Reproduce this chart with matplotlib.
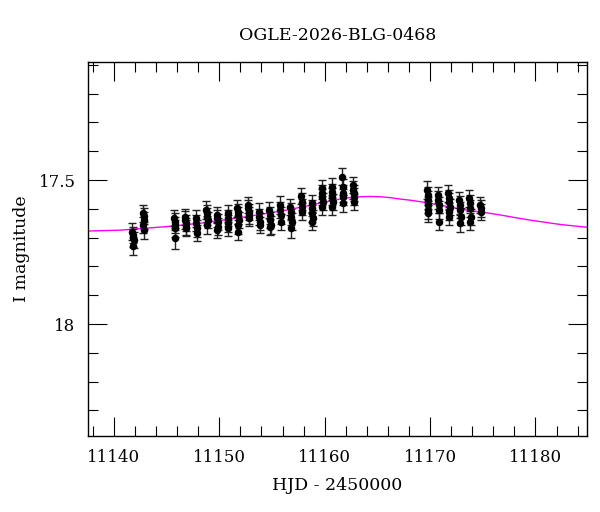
import matplotlib
matplotlib.use("Agg")
import matplotlib.pyplot as plt
from matplotlib.ticker import MultipleLocator, FuncFormatter

title = "OGLE-2026-BLG-0468"
xlabel = "HJD - 2450000"
ylabel = "I magnitude"

# photometry (HJD - 2450000, I mag, error)
hjd = [
    11141.76, 11141.80, 11141.84, 11141.88, 11141.82,
    11142.78, 11142.82, 11142.86, 11142.80, 11142.88,
    11145.72, 11145.76, 11145.80, 11145.84, 11145.78,
    11146.74, 11146.78, 11146.82, 11146.86, 11146.80,
    11147.78, 11147.82, 11147.86, 11147.84,
    11148.78, 11148.82, 11148.86, 11148.90, 11148.84,
    11149.76, 11149.80, 11149.84, 11149.88, 11149.82,
    11150.78, 11150.82, 11150.86, 11150.84,
    11151.72, 11151.76, 11151.80, 11151.84, 11151.78, 11151.82,
    11152.72, 11152.76, 11152.80, 11152.84, 11152.78,
    11153.76, 11153.80, 11153.84, 11153.82,
    11154.76, 11154.80, 11154.84, 11154.88, 11154.82,
    11155.76, 11155.80, 11155.84, 11155.82,
    11156.74, 11156.78, 11156.82, 11156.86, 11156.80,
    11157.78, 11157.82, 11157.86, 11157.84,
    11158.76, 11158.80, 11158.84, 11158.88, 11158.82,
    11159.70, 11159.74, 11159.78, 11159.82, 11159.76,
    11160.66, 11160.70, 11160.74, 11160.78, 11160.72,
    11161.66, 11161.70, 11161.74, 11161.78, 11161.72,
    11162.68, 11162.72, 11162.76, 11162.80, 11162.74,
    11169.72, 11169.76, 11169.80, 11169.84, 11169.78, 11169.82,
    11170.74, 11170.78, 11170.82, 11170.86, 11170.80,
    11171.74, 11171.78, 11171.82, 11171.86, 11171.80, 11171.84,
    11172.78, 11172.82, 11172.86, 11172.90, 11172.84,
    11173.72, 11173.76, 11173.80, 11173.84, 11173.78,
    11174.76, 11174.80, 11174.84,
]
mag = [
    17.679, 17.691, 17.701, 17.708, 17.729,
    17.615, 17.625, 17.640, 17.655, 17.675,
    17.633, 17.645, 17.656, 17.668, 17.702,
    17.627, 17.639, 17.650, 17.662, 17.668,
    17.633, 17.650, 17.668, 17.685,
    17.604, 17.616, 17.627, 17.639, 17.656,
    17.622, 17.633, 17.645, 17.662, 17.674,
    17.616, 17.633, 17.650, 17.668,
    17.598, 17.610, 17.622, 17.639, 17.656, 17.679,
    17.587, 17.598, 17.610, 17.622, 17.633,
    17.610, 17.627, 17.645, 17.656,
    17.604, 17.622, 17.639, 17.656, 17.662,
    17.587, 17.604, 17.622, 17.645,
    17.593, 17.610, 17.627, 17.645, 17.668,
    17.556, 17.575, 17.593, 17.610,
    17.581, 17.598, 17.616, 17.633, 17.645,
    17.529, 17.546, 17.558, 17.575, 17.593,
    17.523, 17.541, 17.558, 17.575, 17.593,
    17.488, 17.523, 17.546, 17.558, 17.581,
    17.517, 17.535, 17.546, 17.558, 17.575,
    17.535, 17.552, 17.569, 17.587, 17.604, 17.616,
    17.552, 17.569, 17.587, 17.604, 17.645,
    17.546, 17.564, 17.575, 17.593, 17.610, 17.627,
    17.569, 17.587, 17.604, 17.627, 17.650,
    17.564, 17.581, 17.598, 17.627, 17.645,
    17.587, 17.598, 17.610,
]
err = [
    0.030, 0.028, 0.030, 0.028, 0.032,
    0.030, 0.028, 0.030, 0.028, 0.030,
    0.028, 0.030, 0.028, 0.030, 0.036,
    0.028, 0.030, 0.028, 0.030, 0.028,
    0.030, 0.028, 0.030, 0.028,
    0.030, 0.028, 0.030, 0.028, 0.030,
    0.028, 0.030, 0.028, 0.030, 0.028,
    0.030, 0.028, 0.030, 0.028,
    0.030, 0.028, 0.030, 0.028, 0.030, 0.028,
    0.028, 0.030, 0.028, 0.030, 0.028,
    0.030, 0.028, 0.030, 0.028,
    0.028, 0.030, 0.028, 0.030, 0.028,
    0.030, 0.028, 0.030, 0.028,
    0.028, 0.030, 0.028, 0.030, 0.032,
    0.028, 0.030, 0.028, 0.030,
    0.030, 0.028, 0.030, 0.028, 0.030,
    0.028, 0.030, 0.028, 0.030, 0.028,
    0.030, 0.028, 0.030, 0.028, 0.030,
    0.030, 0.028, 0.030, 0.028, 0.030,
    0.028, 0.030, 0.028, 0.030, 0.028,
    0.030, 0.028, 0.030, 0.028, 0.030, 0.028,
    0.028, 0.030, 0.028, 0.030, 0.030,
    0.030, 0.028, 0.030, 0.028, 0.030, 0.028,
    0.028, 0.030, 0.028, 0.030, 0.030,
    0.030, 0.028, 0.030, 0.028, 0.030,
    0.028, 0.030, 0.028,
]

# model curve
model_hjd = [11137.54, 11140.63, 11144.90, 11148.21, 11152.47, 11156.42,
             11158.30, 11160.21, 11161.47, 11162.40, 11163.36, 11164.30,
             11165.26, 11166.20, 11167.15, 11168.10, 11169.04, 11170.93,
             11172.35, 11173.77, 11175.20, 11176.61, 11178.00, 11179.45,
             11182.29, 11184.89]
model_mag = [17.677, 17.674, 17.662, 17.650, 17.628, 17.604,
             17.590, 17.575, 17.566, 17.561, 17.558, 17.557,
             17.558, 17.561, 17.566, 17.570, 17.575, 17.587,
             17.597, 17.606, 17.613, 17.621, 17.630, 17.639,
             17.654, 17.664]

plt.rcParams['font.family'] = ['DejaVu Serif']
plt.rcParams['mathtext.fontset'] = 'dejavuserif'

fig = plt.figure(figsize=(6.0, 5.12), dpi=100)
ax = fig.add_axes([88/600, 1-436/512, (587-88)/600, (436-62)/512])

ax.plot(model_hjd, model_mag, color='#ff00ff', lw=1.0, zorder=1)
ax.errorbar(hjd, mag, yerr=err, fmt='o', color='black', ms=4.4,
            ecolor='#222222', elinewidth=1.0, capsize=2.6, capthick=1.0,
            zorder=2)

ax.set_xlim(11137.54, 11184.89)
ax.set_ylim(18.389, 17.090)

ax.xaxis.set_major_locator(MultipleLocator(10))
ax.xaxis.set_minor_locator(MultipleLocator(2))
ax.yaxis.set_major_locator(MultipleLocator(0.5))
ax.yaxis.set_minor_locator(MultipleLocator(0.1))
ax.yaxis.set_major_formatter(FuncFormatter(lambda v, p: '%g' % v))
ax.xaxis.set_major_formatter(FuncFormatter(lambda v, p: '%d' % round(v)))

ax.tick_params(which='both', direction='in', top=True, right=True,
               labelsize=12, width=0.8, colors='black')
ax.tick_params(which='major', length=14, pad=9)
ax.tick_params(which='minor', length=7)
for s in ax.spines.values():
    s.set_linewidth(1.0)

ax.set_title(title, fontsize=12.5, pad=16)
ax.set_xlabel(xlabel, fontsize=12.5, labelpad=8)
ax.set_ylabel(ylabel, fontsize=12.5, labelpad=6)

fig.savefig('out.png', dpi=100)
